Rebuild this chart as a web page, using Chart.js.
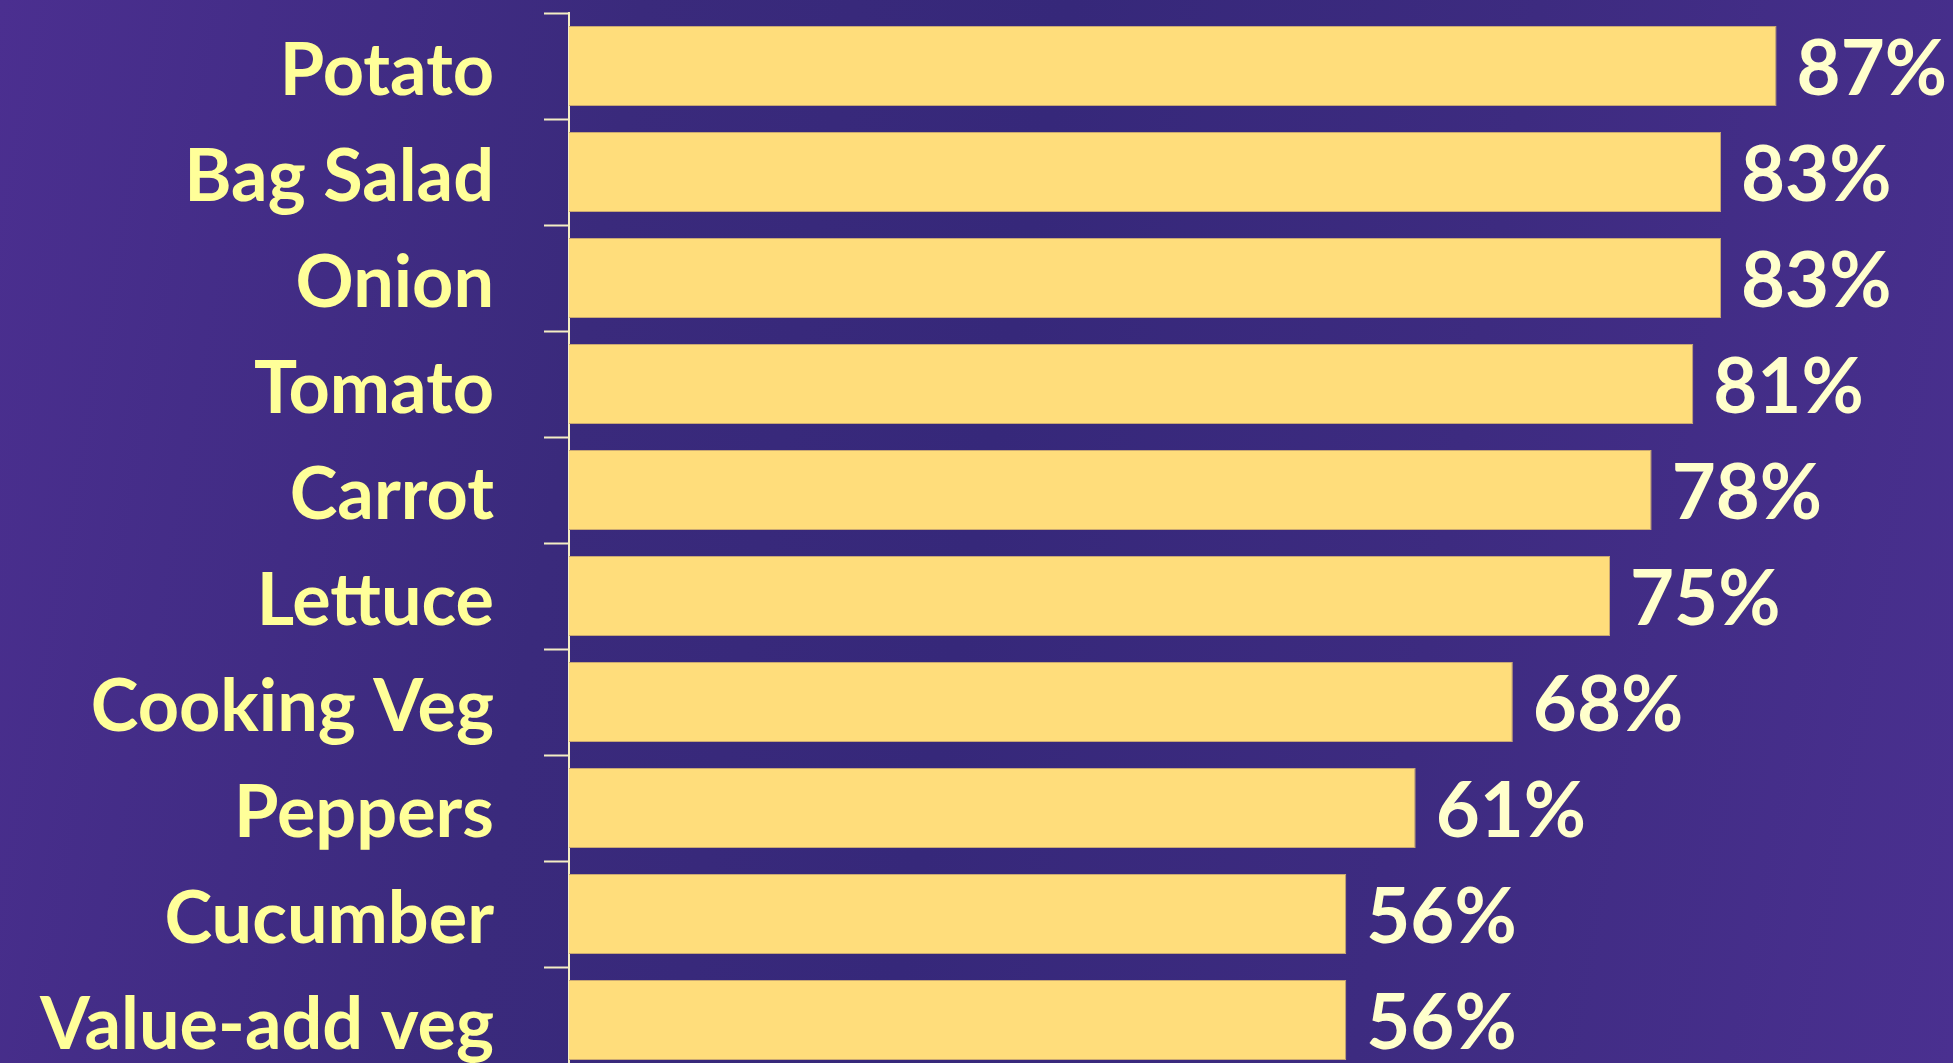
<!DOCTYPE html>
<html>
<head>
<meta charset="utf-8">
<script src="https://cdn.jsdelivr.net/npm/chart.js@4/dist/chart.umd.min.js"></script>
<style>
  html, body {
    margin: 0;
    padding: 0;
    overflow: hidden;
    width: 1953px;
    height: 1063px;
    background: linear-gradient(100deg, #4b2f90 0%, #3a2a7c 30%, #36287a 50%, #3d2b80 72%, #4a3090 100%);
  }
  #wrap { position: absolute; left: 0; top: 0; width: 1957px; height: 1080px; }
</style>
</head>
<body>
<div id="wrap"><canvas id="chart"></canvas></div>
<script>
const categories = ['Potato', 'Bag Salad', 'Onion', 'Tomato', 'Carrot', 'Lettuce', 'Cooking Veg', 'Peppers', 'Cucumber', 'Value-add veg'];
const shares = [87, 83, 83, 81, 78, 75, 68, 61, 56, 56];

const FONT = '"Comic Sans MS", Lato, sans-serif';

// percent labels just past the end of each bar
const valueLabels = {
  id: 'valueLabels',
  afterDatasetsDraw(chart) {
    const ctx = chart.ctx;
    const meta = chart.getDatasetMeta(0);
    ctx.save();
    ctx.font = 'bold 76px ' + FONT;
    ctx.fillStyle = '#ffffcc';
    ctx.textAlign = 'left';
    ctx.textBaseline = 'middle';
    meta.data.forEach((bar, i) => {
      ctx.fillText(shares[i] + '%', bar.x + 20, bar.y + 4);
    });
    ctx.restore();
  }
};

new Chart(document.getElementById('chart'), {
  type: 'bar',
  data: {
    labels: categories,
    datasets: [{
      data: shares,
      backgroundColor: '#ffdd7b',
      borderColor: '#c9a873',
      borderWidth: 1,
      categoryPercentage: 1,
      barPercentage: 0.755
    }]
  },
  options: {
    indexAxis: 'y',
    responsive: true,
    maintainAspectRatio: false,
    animation: false,
    layout: { padding: { top: 13, bottom: 7, left: 0, right: 0 } },
    scales: {
      x: { display: false, min: 0, max: 100 },
      y: {
        afterFit: (s) => {
          s.width = 569;
          // labels sit mid-category, so no extra room above/below
          s.paddingTop = 0;
          s.paddingBottom = 0;
        },
        border: { display: true, color: '#f4eec4', width: 2 },
        grid: {
          drawOnChartArea: false,
          drawTicks: true,
          tickLength: 25,
          tickWidth: 2,
          tickColor: '#f4eec4',
          offset: true
        },
        ticks: {
          color: '#ffff99',
          padding: 50,
          labelOffset: 6,
          font: { family: FONT, size: 72, weight: 'bold' }
        }
      }
    },
    plugins: {
      legend: { display: false },
      tooltip: { enabled: false }
    }
  },
  plugins: [valueLabels]
});
</script>
</body>
</html>
